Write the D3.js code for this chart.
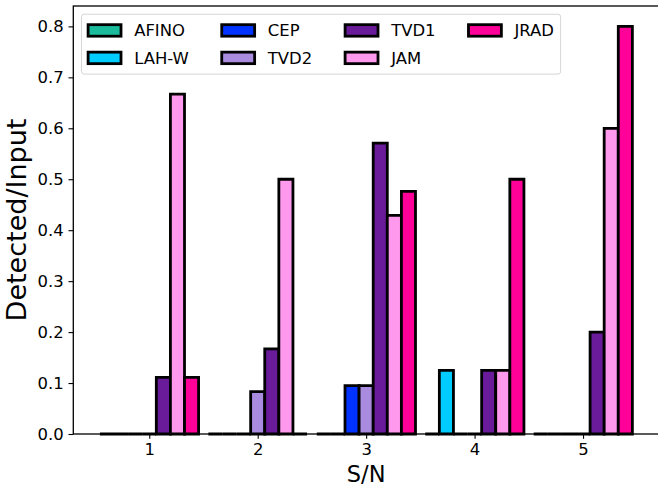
<!DOCTYPE html>
<html>
<head>
<meta charset="utf-8">
<script src="https://cdn.jsdelivr.net/npm/d3@7"></script>
<style>
  html, body { margin: 0; padding: 0; background: #fff; }
  svg { display: block; font-family: "DejaVu Sans", sans-serif; }
</style>
</head>
<body>
<svg id="chart" width="658" height="491"></svg>
<script>
// ---- data ----
const categories = [1, 2, 3, 4, 5];
const seriesNames = ["AFINO", "LAH-W", "CEP", "TVD2", "TVD1", "JAM", "JRAD"];
const seriesColors = ["#1abc9c", "#00ccff", "#0033ff", "#a98ce0", "#6a1b9a", "#ff99ee", "#ff0099"];
const AFINO = [0, 0, 0, 0, 0];
const LAHW  = [0, 0, 0, 0.125, 0];
const CEP   = [0, 0, 0.095, 0, 0];
const TVD2  = [0, 0.083, 0.095, 0, 0];
const TVD1  = [0.111, 0.167, 0.571, 0.125, 0.2];
const JAM   = [0.667, 0.5, 0.429, 0.125, 0.6];
const JRAD  = [0.111, 0, 0.476, 0.5, 0.8];
const seriesValues = [AFINO, LAHW, CEP, TVD2, TVD1, JAM, JRAD];
const yTicks = [0, 0.1, 0.2, 0.3, 0.4, 0.5, 0.6, 0.7, 0.8];
const xLabel = "S/N";
const yLabel = "Detected/Input";

(function () {
// ---- layout ----
const svg = d3.select("#chart");
const pL = 73.3, pR = 659, pT = 6, pB = 434;
const barW = 0.13;
const nS = seriesNames.length;
const xMin = 1 - 3.5 * barW, xMax = 5 + 3.5 * barW;
const xMargin = 0.05 * (xMax - xMin);
const x = d3.scaleLinear().domain([xMin - xMargin, xMax + xMargin]).range([pL, pR]);
const y = d3.scaleLinear().domain([0, 0.84]).range([pB, pT]);

const fs = 16.45;
const labFs = 22.5;
const yLabFs = 27;

// bars (paths so zero-height bars still show their edge)
seriesValues.forEach((vals, si) => {
  const off = (si - (nS - 1) / 2) * barW;
  svg.append("g").selectAll("path").data(vals).join("path")
    .attr("d", (d, i) => {
      const x0 = x(categories[i] + off - barW / 2), x1 = x(categories[i] + off + barW / 2);
      const y0 = y(0), y1 = y(d);
      return `M${x0},${y0}L${x0},${y1}L${x1},${y1}L${x1},${y0}Z`;
    })
    .attr("fill", seriesColors[si])
    .attr("stroke", "#000")
    .attr("stroke-width", 2.8)
    .attr("stroke-linejoin", "miter");
});

// axes
const xAxis = d3.axisBottom(x).tickValues(categories).tickFormat(d3.format("d")).tickSize(4.8).tickPadding(4.8);
const yAxis = d3.axisLeft(y).tickValues(yTicks).tickFormat(d3.format(".1f")).tickSize(4.8).tickPadding(4.8);

const gx = svg.append("g").attr("transform", `translate(0,${pB})`).call(xAxis);
const gy = svg.append("g").attr("transform", `translate(${pL},0)`).call(yAxis);
[gx, gy].forEach(g => {
  g.select(".domain").remove();
  g.selectAll("line").attr("stroke", "#000").attr("stroke-width", 1.1);
  g.selectAll("text").attr("fill", "#000").style("font-size", fs + "px").style("font-family", "DejaVu Sans");
});

// spines
svg.append("rect").attr("x", pL).attr("y", pT).attr("width", pR - pL).attr("height", pB - pT)
  .attr("fill", "none").attr("stroke", "#000").attr("stroke-width", 1.3);

// axis labels
svg.append("text").attr("x", (pL + pR) / 2).attr("y", 482).attr("text-anchor", "middle")
  .style("font-size", labFs + "px").text(xLabel);
svg.append("text").attr("transform", `translate(26,${(pT + pB) / 2}) rotate(-90)`)
  .attr("text-anchor", "middle").style("font-size", yLabFs + "px").text(yLabel);

// legend
const ncol = 4, nrow = 2;
const pad = 0.4 * fs, hLen = 2.0 * fs, hH = 0.7 * fs, hPad = 0.8 * fs, colSp = 2.0 * fs, rowH = fs * 1.17, rowSp = 0.5 * fs;
const lgX = pL + 0.5 * fs, lgY = pT + 0.5 * fs;
const lg = svg.append("g");
const frame = lg.append("rect");
const widths = seriesNames.map(n => {
  const t = lg.append("text").style("font-size", fs + "px").text(n);
  const w = t.node().getComputedTextLength();
  t.remove();
  return w;
});
let cx = lgX + pad;
for (let c = 0; c < ncol; c++) {
  let colW = 0;
  for (let r = 0; r < nrow; r++) {
    const i = c * nrow + r;
    if (i >= nS) continue;
    colW = Math.max(colW, widths[i]);
    const cy = lgY + pad + rowH / 2 + r * (rowH + rowSp);
    lg.append("rect").attr("x", cx).attr("y", cy - hH / 2).attr("width", hLen).attr("height", hH)
      .attr("fill", seriesColors[i]).attr("stroke", "#000").attr("stroke-width", 2.8);
    lg.append("text").attr("x", cx + hLen + hPad).attr("y", cy).attr("dy", "0.36em")
      .style("font-size", fs + "px").text(seriesNames[i]);
  }
  cx += hLen + hPad + colW + (c < ncol - 1 ? colSp : 0);
}
const lgW = cx + pad - lgX;
const lgH = 2 * pad + nrow * rowH + (nrow - 1) * rowSp;
frame.attr("x", lgX).attr("y", lgY).attr("width", lgW).attr("height", lgH)
  .attr("rx", 2.5).attr("ry", 2.5)
  .attr("fill", "#fff").attr("fill-opacity", 0.8).attr("stroke", "#d6d6d6").attr("stroke-width", 1);
})();
</script>
</body>
</html>
